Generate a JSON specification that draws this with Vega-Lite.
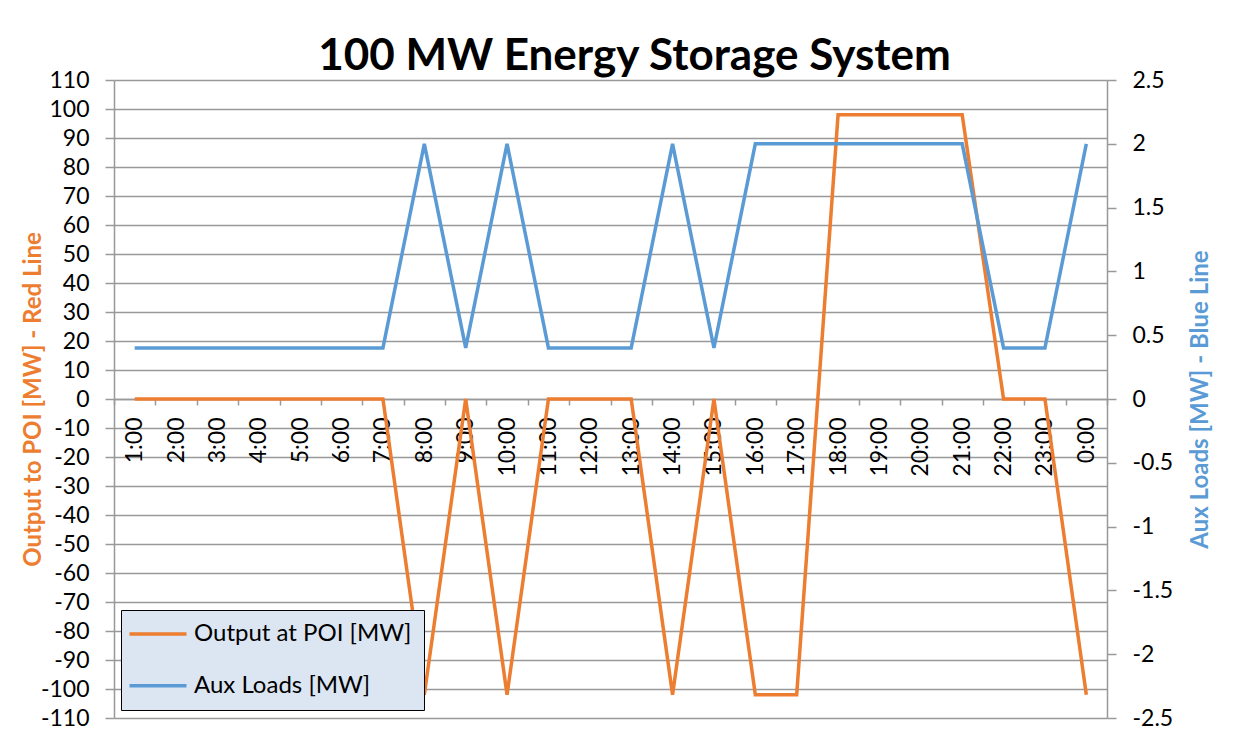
{
  "$schema": "https://vega.github.io/schema/vega-lite/v6.json",
  "autosize": "none",
  "width": 993,
  "height": 638,
  "padding": {"left": 114, "top": 80, "right": 147, "bottom": 24},
  "background": "white",
  "title": {
    "text": "100 MW Energy Storage System",
    "font": "Lato",
    "fontSize": 44,
    "fontWeight": "bold",
    "color": "black",
    "anchor": "middle",
    "baseline": "alphabetic",
    "offset": 8,
    "dx": 24,
    "dy": 53
  },
  "config": {
    "view": {"stroke": null},
    "font": "Lato",
    "axis": {
      "labelFont": "Lato",
      "labelFontSize": 23,
      "labelColor": "black",
      "domainColor": "#999999",
      "tickColor": "#999999",
      "gridColor": "#999999",
      "domainWidth": 1.5,
      "tickWidth": 1.5,
      "gridWidth": 1.5
    },
    "legend": {"labelFont": "Lato"}
  },
  "data": {
    "values": [
      {"time": "1:00", "poi": 0, "aux": 0.4},
      {"time": "2:00", "poi": 0, "aux": 0.4},
      {"time": "3:00", "poi": 0, "aux": 0.4},
      {"time": "4:00", "poi": 0, "aux": 0.4},
      {"time": "5:00", "poi": 0, "aux": 0.4},
      {"time": "6:00", "poi": 0, "aux": 0.4},
      {"time": "7:00", "poi": 0, "aux": 0.4},
      {"time": "8:00", "poi": -102, "aux": 2},
      {"time": "9:00", "poi": 0, "aux": 0.4},
      {"time": "10:00", "poi": -102, "aux": 2},
      {"time": "11:00", "poi": 0, "aux": 0.4},
      {"time": "12:00", "poi": 0, "aux": 0.4},
      {"time": "13:00", "poi": 0, "aux": 0.4},
      {"time": "14:00", "poi": -102, "aux": 2},
      {"time": "15:00", "poi": 0, "aux": 0.4},
      {"time": "16:00", "poi": -102, "aux": 2},
      {"time": "17:00", "poi": -102, "aux": 2},
      {"time": "18:00", "poi": 98, "aux": 2},
      {"time": "19:00", "poi": 98, "aux": 2},
      {"time": "20:00", "poi": 98, "aux": 2},
      {"time": "21:00", "poi": 98, "aux": 2},
      {"time": "22:00", "poi": 0, "aux": 0.4},
      {"time": "23:00", "poi": 0, "aux": 0.4},
      {"time": "0:00", "poi": -102, "aux": 2}
    ]
  },
  "encoding": {
    "x": {
      "field": "time",
      "type": "ordinal",
      "sort": null,
      "scale": {"type": "band", "paddingInner": 0, "paddingOuter": 0},
      "axis": {
        "title": null,
        "offset": -319,
        "labelAngle": -90,
        "labelFont": "Lato",
        "labelFontSize": 23,
        "tickBand": "extent",
        "tickSize": 6,
        "labelPadding": 12,
        "grid": false,
        "domain": true
      }
    }
  },
  "layer": [
    {
      "mark": {"type": "line", "strokeWidth": 3.5, "interpolate": "linear"},
      "encoding": {
        "y": {
          "field": "poi",
          "type": "quantitative",
          "scale": {"domain": [-110, 110], "nice": false, "zero": false},
          "axis": {
            "values": [-110, -100, -90, -80, -70, -60, -50, -40, -30, -20, -10, 0, 10, 20, 30, 40, 50, 60, 70, 80, 90, 100, 110],
            "labelExpr": "datum.value + ''",
            "labelFont": "Lato",
            "labelFontSize": 23,
            "grid": true,
            "tickSize": 9,
            "labelPadding": 16,
            "title": "Output to POI [MW] - Red Line",
            "titleFont": "Lato",
            "titleFontSize": 24,
            "titleFontWeight": "bold",
            "titleColor": "#ED7D31",
            "titleX": -81,
            "titleY": 319,
            "titleAngle": -90,
            "titleAlign": "center",
            "titleBaseline": "middle"
          }
        },
        "color": {
          "datum": "Output at POI [MW]",
          "type": "nominal",
          "scale": {"domain": ["Output at POI [MW]", "Aux Loads [MW]"], "range": ["#ED7D31", "#5B9BD5"]},
          "legend": {
            "title": null,
            "orient": "none",
            "legendX": 7,
            "legendY": 530,
            "fillColor": "#DCE6F2",
            "strokeColor": "black",
            "padding": 12,
            "symbolType": "M-2.85,0H2.85",
            "symbolSize": 400,
            "symbolStrokeWidth": 3.5,
            "symbolOffset": 13,
            "labelFontSize": 24,
            "labelColor": "black",
            "labelLimit": 400,
            "rowPadding": 27.7,
            "labelOffset": 24
          }
        }
      }
    },
    {
      "mark": {"type": "line", "strokeWidth": 3.5, "interpolate": "linear"},
      "encoding": {
        "y": {
          "field": "aux",
          "type": "quantitative",
          "scale": {"domain": [-2.5, 2.5], "nice": false, "zero": false},
          "axis": {
            "orient": "right",
            "values": [-2.5, -2, -1.5, -1, -0.5, 0, 0.5, 1, 1.5, 2, 2.5],
            "labelExpr": "datum.value + ''",
            "labelFont": "Lato",
            "labelFontSize": 23,
            "grid": false,
            "tickSize": 9,
            "labelPadding": 16,
            "title": "Aux Loads [MW] - Blue Line",
            "titleFont": "Lato",
            "titleFontSize": 24,
            "titleFontWeight": "bold",
            "titleColor": "#5B9BD5",
            "titleX": 93,
            "titleY": 319,
            "titleAngle": -90,
            "titleAlign": "center",
            "titleBaseline": "middle"
          }
        },
        "color": {"datum": "Aux Loads [MW]", "type": "nominal"}
      }
    }
  ],
  "resolve": {"scale": {"y": "independent"}}
}
